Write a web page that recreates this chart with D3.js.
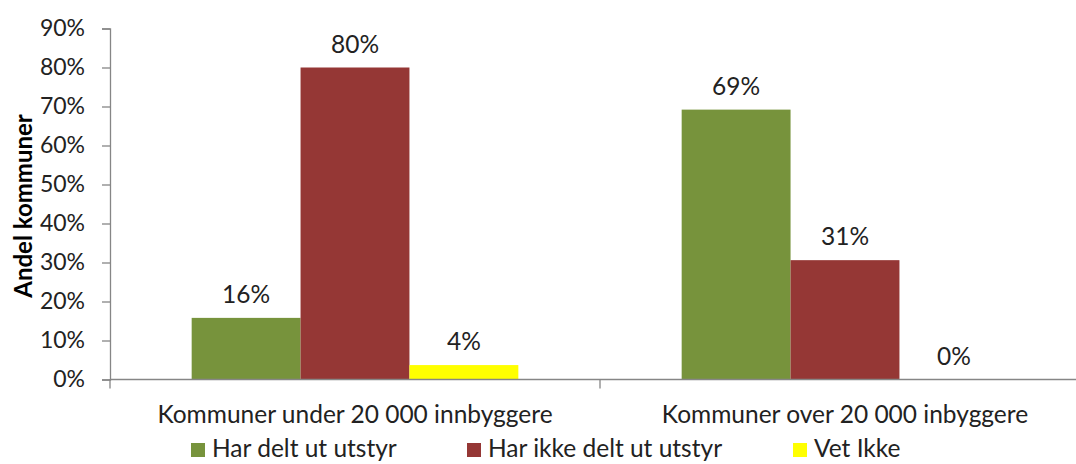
<!DOCTYPE html>
<html>
<head>
<meta charset="utf-8">
<script src="https://cdn.jsdelivr.net/npm/d3@7"></script>
<style>
  body { margin: 0; background: #fff; }
  svg { display: block; font-family: Lato, "Open Sans", sans-serif; }
</style>
</head>
<body>
<svg id="chart" width="1076" height="464"></svg>
<script>
'use strict';

const categories = ['Kommuner under 20 000 innbyggere', 'Kommuner over 20 000 inbyggere'];
const seriesNames = ['Har delt ut utstyr', 'Har ikke delt ut utstyr', 'Vet Ikke'];
const seriesColors = ['#77933C', '#953735', '#FFFF00'];
const hardDelt = [0.158, 0.692];
const harIkkeDelt = [0.80, 0.306];
const vetIkke = [0.037, 0];
const yTicks = [0, 0.1, 0.2, 0.3, 0.4, 0.5, 0.6, 0.7, 0.8, 0.9];

const series = [hardDelt, harIkkeDelt, vetIkke];

const margin = { top: 28.5, left: 110, bottom: 84.5 };
const plotRight = 1090;
const width = 1076, height = 464;
const fontSize = 24.5;

const svg = d3.select('#chart');

const x0 = d3.scaleBand()
  .domain(categories)
  .range([margin.left, plotRight])
  .paddingInner(0)
  .paddingOuter(0);

// Excel gap width 150%: bars take 3 of 4.5 units per category
const x1 = d3.scaleBand()
  .domain(seriesNames)
  .range([0, x0.bandwidth()])
  .paddingInner(0)
  .paddingOuter(0.75);

const y = d3.scaleLinear()
  .domain([0, 0.9])
  .range([height - margin.bottom, margin.top]);

const fmt = d3.format('.0%');

// y axis
const yAxis = svg.append('g')
  .attr('transform', `translate(${margin.left},0)`)
  .call(d3.axisLeft(y).tickValues(yTicks).tickFormat(fmt).tickSize(8).tickPadding(17));
yAxis.select('.domain').attr('stroke', '#868686').attr('stroke-width', 1.3);
yAxis.selectAll('.tick line').attr('stroke', '#868686').attr('stroke-width', 1.3);
yAxis.selectAll('.tick text')
  .attr('font-size', 23)
  .attr('fill', '#222')
  .attr('font-family', 'Lato, sans-serif');

// bars
const groups = svg.append('g').selectAll('g')
  .data(categories)
  .join('g')
  .attr('transform', (d) => `translate(${x0(d)},0)`);

groups.selectAll('rect')
  .data((d, i) => seriesNames.map((s, j) => ({ s, v: series[j][i], c: seriesColors[j] })))
  .join('rect')
  .attr('x', (d) => x1(d.s))
  .attr('width', x1.bandwidth())
  .attr('y', (d) => y(d.v))
  .attr('height', (d) => y(0) - y(d.v))
  .attr('fill', (d) => d.c);

groups.selectAll('text.val')
  .data((d, i) => seriesNames.map((s, j) => ({ s, v: series[j][i] })))
  .join('text')
  .attr('class', 'val')
  .attr('x', (d) => x1(d.s) + x1.bandwidth() / 2)
  .attr('y', (d) => y(d.v) - 15)
  .attr('text-anchor', 'middle')
  .attr('font-size', fontSize)
  .attr('fill', '#222')
  .text((d) => fmt(d.v));

// x axis
const xAxis = svg.append('g')
  .attr('transform', `translate(0,${y(0)})`);
xAxis.append('line')
  .attr('x1', margin.left).attr('x2', plotRight)
  .attr('stroke', '#868686').attr('stroke-width', 1.3);
xAxis.selectAll('line.tick')
  .data(categories.concat(['end']))
  .join('line')
  .attr('class', 'tick')
  .attr('x1', (d, i) => i < categories.length ? x0(d) : plotRight)
  .attr('x2', (d, i) => i < categories.length ? x0(d) : plotRight)
  .attr('y1', 0).attr('y2', 9)
  .attr('stroke', '#868686').attr('stroke-width', 1.3);
xAxis.selectAll('text')
  .data(categories)
  .join('text')
  .attr('x', (d) => x0(d) + x0.bandwidth() / 2)
  .attr('y', 43)
  .attr('text-anchor', 'middle')
  .attr('font-size', fontSize)
  .attr('fill', '#222')
  .text((d) => d);

// y title
svg.append('text')
  .attr('transform', 'translate(32,206) rotate(-90)')
  .attr('text-anchor', 'middle')
  .attr('font-size', 24)
  .attr('font-weight', 'bold')
  .attr('fill', '#000')
  .text('Andel kommuner');

// legend
const legendX = [191, 467, 793];
const legend = svg.append('g').selectAll('g')
  .data(seriesNames)
  .join('g')
  .attr('transform', (d, i) => `translate(${legendX[i]},443)`);
legend.append('rect')
  .attr('width', 14).attr('height', 14)
  .attr('fill', (d, i) => seriesColors[i]);
legend.append('text')
  .attr('x', 21)
  .attr('y', 14)
  .attr('font-size', fontSize)
  .attr('fill', '#222')
  .text((d) => d);
</script>
</body>
</html>
